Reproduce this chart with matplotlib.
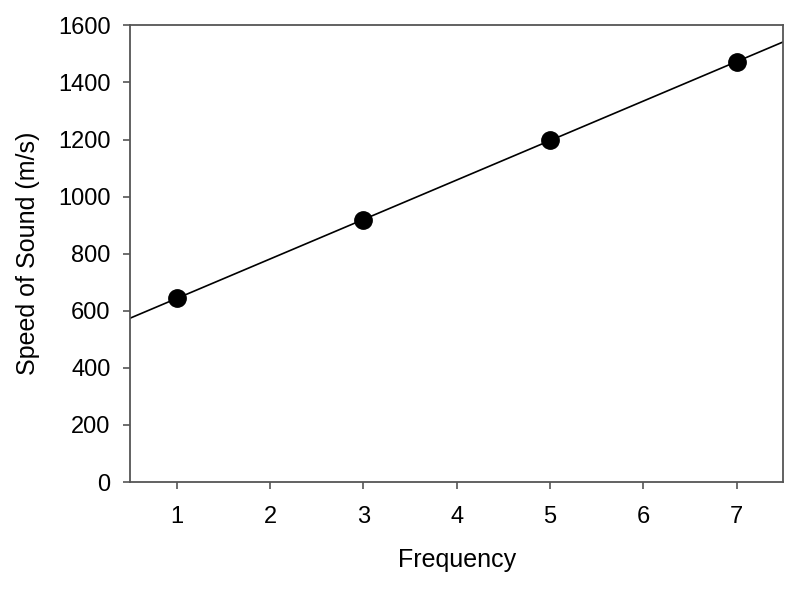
import numpy as np
import matplotlib
matplotlib.use('Agg')
import matplotlib.pyplot as plt

plt.rcParams['font.family'] = ['Liberation Sans', 'DejaVu Sans']

frequency = [1, 3, 5, 7]
speed = [644, 918, 1197, 1473]

# linear fit line across the whole x range
fit_x = np.array([0.5, 7.5])
slope, intercept = np.polyfit(frequency, speed, 1)
fit_y = slope * fit_x + intercept

fig = plt.figure(figsize=(8, 5.9), dpi=100)
ax = fig.add_axes([0.1625, 0.183, 0.8165, 0.774])

ax.plot(fit_x, fit_y, color='black', lw=1.2)
ax.plot(frequency, speed, 'o', color='black', markersize=12.5)

ax.set_xlim(0.5, 7.5)
ax.set_ylim(0, 1600)
ax.set_xticks(range(1, 8))
ax.set_yticks(range(0, 1601, 200))

for sp in ax.spines.values():
    sp.set_color('#555555')
    sp.set_linewidth(1.3)
ax.tick_params(direction='out', length=5, width=1.2, color='#555555',
               labelsize=17)
ax.tick_params(axis='x', pad=12)
ax.tick_params(axis='y', pad=9)

ax.set_xlabel('Frequency', fontsize=18, labelpad=15)
ax.set_ylabel('Speed of Sound (m/s)', fontsize=18, labelpad=13)

fig.savefig('out.png', dpi=100)
